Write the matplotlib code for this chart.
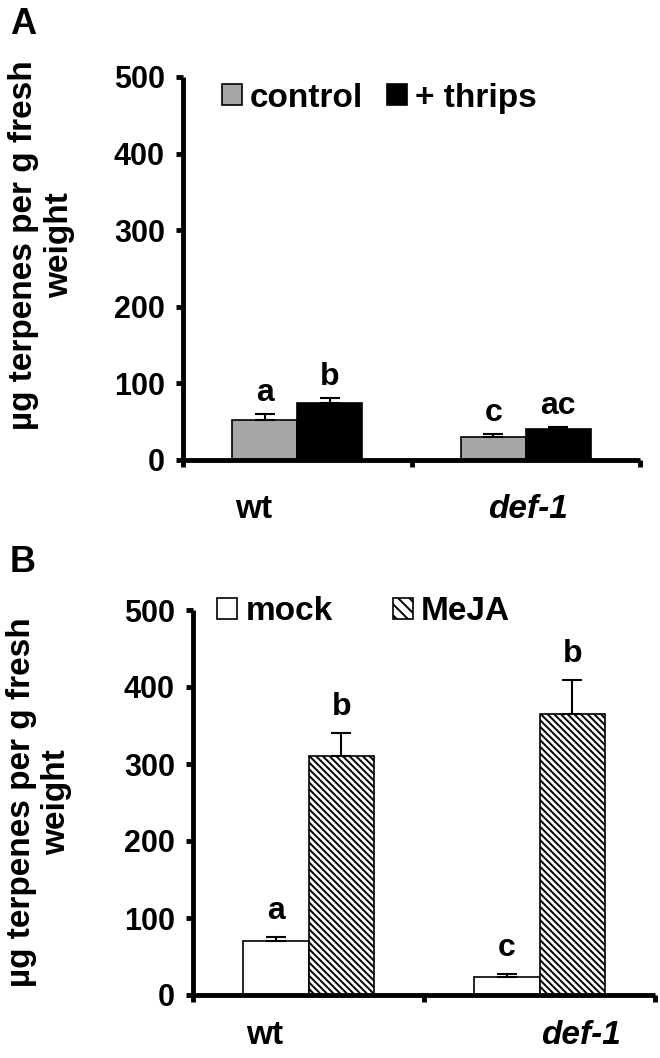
import matplotlib
matplotlib.use('Agg')
import matplotlib.pyplot as plt
from matplotlib.patches import Patch
import numpy as np

plt.rcParams['font.family'] = ['Liberation Sans', 'DejaVu Sans']
plt.rcParams['font.weight'] = 'bold'
plt.rcParams['hatch.linewidth'] = 1.4

# 数据
genotypes = ['wt', 'def-1']
letters_font = 23

# A: 蓟马处理
a_control = [52, 30]
a_control_err = [8, 4]
a_thrips = [75, 41]
a_thrips_err = [6, 2]
a_letters_control = ['a', 'c']
a_letters_thrips = ['b', 'ac']

# B: MeJA 处理
b_mock = [70, 24]
b_mock_err = [5, 3]
b_meja = [310, 365]
b_meja_err = [30, 44]
b_letters_mock = ['a', 'c']
b_letters_meja = ['b', 'b']

yticks = [0, 100, 200, 300, 400, 500]
ylabel = 'µg terpenes per g fresh\nweight'

fig = plt.figure(figsize=(6.6, 10.58), dpi=100)
ax_a = fig.add_axes([183 / 660, 1 - 460 / 1058, 457 / 660, 383 / 1058])
ax_b = fig.add_axes([193 / 660, 1 - 995 / 1058, 462 / 660, 385 / 1058])

width = 0.285
x = np.array([0.5, 1.5])


def style_axes(ax):
    ax.set_xlim(0, 2)
    ax.set_ylim(0, 500)
    for s in ['top', 'right']:
        ax.spines[s].set_visible(False)
    for s in ['left', 'bottom']:
        ax.spines[s].set_linewidth(3.5)
        ax.spines[s].set_capstyle('butt')
    ax.set_yticks(yticks)
    ax.set_yticklabels([str(t) for t in yticks], fontsize=22, fontweight='bold')
    ax.set_xticks([0, 1, 2])
    ax.set_xticklabels([])
    ax.tick_params(axis='y', direction='out', length=5, width=3.5, pad=8)
    ax.tick_params(axis='x', direction='out', length=5, width=3.5)


def draw_letters(ax, xs, vals, errs, labels, offset):
    for xi, v, e, lab in zip(xs, vals, errs, labels):
        ax.text(xi, v + e + offset, lab, ha='center', va='bottom',
                fontsize=letters_font, fontweight='bold')


ekw = dict(ecolor='black', elinewidth=1.5, capsize=7, capthick=1.5)

# ---- A ----
style_axes(ax_a)
ax_a.bar(x - width / 2, a_control, width, color='#a6a6a6', edgecolor='black', linewidth=1.2,
         yerr=[np.zeros(2), a_control_err], error_kw=ekw)
ax_a.bar(x + width / 2, a_thrips, width, color='black', edgecolor='black', linewidth=1.2,
         yerr=[np.zeros(2), a_thrips_err], error_kw=ekw)
draw_letters(ax_a, x - width / 2, a_control, a_control_err, a_letters_control, 8)
draw_letters(ax_a, x + width / 2, a_thrips, a_thrips_err, a_letters_thrips, 8)
ax_a.legend(handles=[Patch(facecolor='#a6a6a6', edgecolor='black', linewidth=1.2),
                     Patch(facecolor='black', edgecolor='black', linewidth=1.2)],
            labels=['control', '+ thrips'], ncol=2, frameon=False,
            loc='center left', bbox_to_anchor=(0.085, 0.945), borderpad=0, borderaxespad=0,
            handlelength=0.6, handleheight=0.6, handletextpad=0.25, columnspacing=0.7,
            prop={'size': 24, 'weight': 'bold'})
ax_a.text(-0.31, 0.56, ylabel, transform=ax_a.transAxes, rotation=90, ha='center', va='center',
          multialignment='center', fontsize=24, fontweight='bold')
ax_a.text(0.31, -0.128, genotypes[0], transform=ax_a.get_xaxis_transform(), ha='center', va='center',
          fontsize=24, fontweight='bold')
ax_a.text(1.51, -0.128, genotypes[1], transform=ax_a.get_xaxis_transform(), ha='center', va='center',
          fontsize=24, fontweight='bold', style='italic')

# ---- B ----
style_axes(ax_b)
ax_b.bar(x - width / 2, b_mock, width, color='white', edgecolor='black', linewidth=1.2,
         yerr=[np.zeros(2), b_mock_err], error_kw=ekw)
ax_b.bar(x + width / 2, b_meja, width, color='white', edgecolor='black', linewidth=1.2,
         hatch='\\\\\\\\\\', yerr=[np.zeros(2), b_meja_err], error_kw=ekw)
draw_letters(ax_b, x - width / 2, b_mock, b_mock_err, b_letters_mock, 15)
draw_letters(ax_b, x + width / 2, b_meja, b_meja_err, b_letters_meja, 15)
ax_b.legend(handles=[Patch(facecolor='white', edgecolor='black', linewidth=1.2),
                     Patch(facecolor='white', edgecolor='black', linewidth=1.2, hatch='\\\\\\')],
            labels=['mock', 'MeJA'], ncol=2, frameon=False,
            loc='center left', bbox_to_anchor=(0.052, 0.995), borderpad=0, borderaxespad=0,
            handlelength=0.6, handleheight=0.6, handletextpad=0.25, columnspacing=1.8,
            prop={'size': 24, 'weight': 'bold'})
ax_b.text(-0.333, 0.5, ylabel, transform=ax_b.transAxes, rotation=90, ha='center', va='center',
          multialignment='center', fontsize=24, fontweight='bold')
ax_b.text(0.31, -0.104, genotypes[0], transform=ax_b.get_xaxis_transform(), ha='center', va='center',
          fontsize=24, fontweight='bold')
ax_b.text(1.68, -0.104, genotypes[1], transform=ax_b.get_xaxis_transform(), ha='center', va='center',
          fontsize=24, fontweight='bold', style='italic')

# 面板字母
fig.text(10 / 660, 1 - 24 / 1058, 'A', fontsize=26, fontweight='bold', ha='left', va='center')
fig.text(10 / 660, 1 - 562 / 1058, 'B', fontsize=26, fontweight='bold', ha='left', va='center')

fig.savefig('out.png', dpi=100)
plt.close(fig)
